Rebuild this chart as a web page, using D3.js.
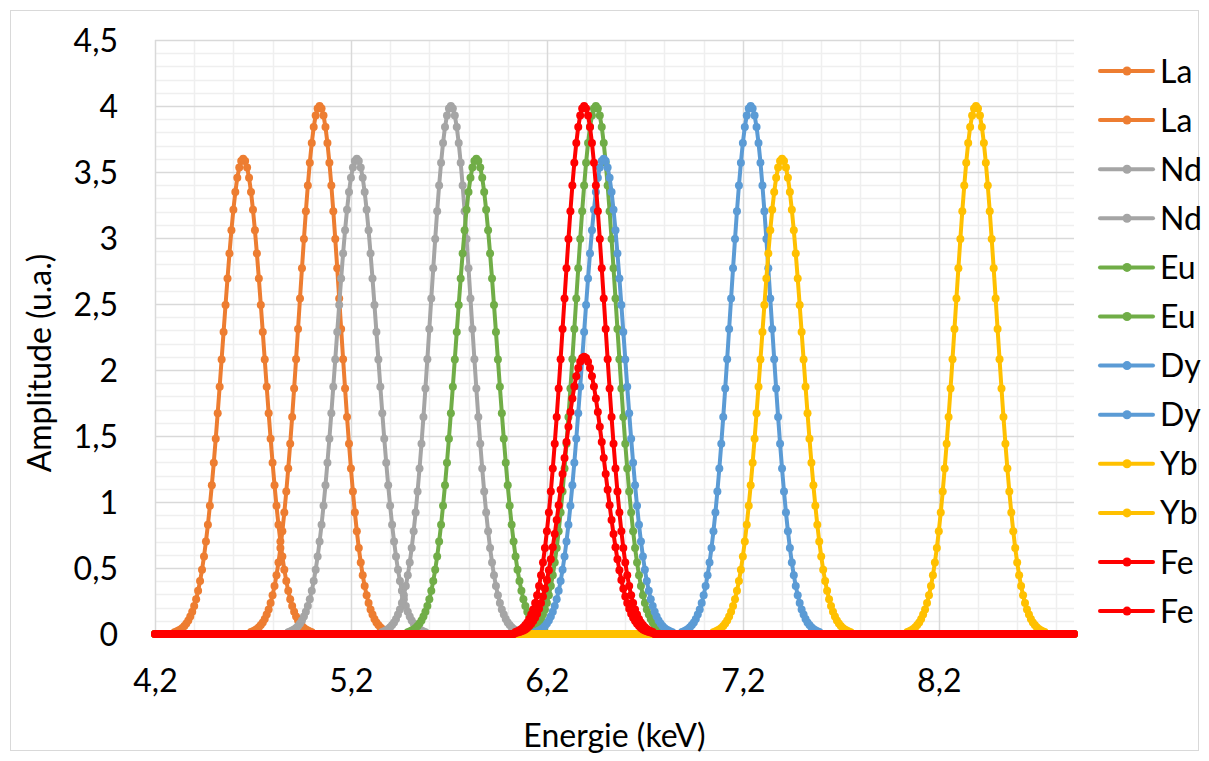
<!DOCTYPE html>
<html>
<head>
<meta charset="utf-8">
<script src="https://cdn.jsdelivr.net/npm/d3@7"></script>
<style>
  html, body { margin: 0; padding: 0; background: #fff; }
  svg text { font-family: Lato, "Open Sans", sans-serif; fill: #000; }
</style>
</head>
<body>
<svg id="chart" width="1209" height="761"></svg>
<script>
// ---------------- DATA ----------------
const seriesNames = ["La", "La", "Nd", "Nd", "Eu", "Eu", "Dy", "Dy", "Yb", "Yb", "Fe", "Fe"];
// peak centres (keV)
const peakCenters = [4.65, 5.04, 5.23, 5.71, 5.84, 6.45, 6.49, 7.24, 7.40, 8.39, 6.39, 6.39];
// which peak profile each series uses
const peakProfileIds = ["p36", "p40", "p36", "p40", "p36", "p40", "p36", "p40", "p36", "p40", "p40", "p21"];
// energy grid (keV): 4.20 … 8.89, step 0.01
const energyFirst = 4.20;
const energyLast = 8.89;
const energyStep = 0.01;
// amplitude values around each peak, from -0.35 to +0.35 keV in 0.01 steps; 0 elsewhere
const peak40 = [0.015,0.021,0.029,0.038,0.051,0.068,0.088,0.114,0.147,0.186,0.235,0.294,0.363,0.445,0.541,0.652,0.778,0.920,1.079,1.253,1.442,1.644,1.859,2.082,2.311,2.542,2.770,2.992,3.203,3.397,3.571,3.720,3.840,3.928,3.982,
  4.000,
  3.982,3.928,3.840,3.720,3.571,3.397,3.203,2.992,2.770,2.542,2.311,2.082,1.859,1.644,1.442,1.253,1.079,0.920,0.778,0.652,0.541,0.445,0.363,0.294,0.235,0.186,0.147,0.114,0.088,0.068,0.051,0.038,0.029,0.021,0.015];
const peak36 = [0.014,0.019,0.026,0.035,0.046,0.061,0.079,0.103,0.132,0.168,0.212,0.264,0.327,0.401,0.487,0.587,0.700,0.828,0.971,1.127,1.298,1.480,1.673,1.874,2.080,2.288,2.493,2.693,2.883,3.058,3.214,3.348,3.456,3.535,3.584,
  3.600,
  3.584,3.535,3.456,3.348,3.214,3.058,2.883,2.693,2.493,2.288,2.080,1.874,1.673,1.480,1.298,1.127,0.971,0.828,0.700,0.587,0.487,0.401,0.327,0.264,0.212,0.168,0.132,0.103,0.079,0.061,0.046,0.035,0.026,0.019,0.014];
const peak21 = [0.008,0.011,0.015,0.020,0.027,0.035,0.046,0.060,0.077,0.098,0.123,0.154,0.191,0.234,0.284,0.342,0.409,0.483,0.566,0.658,0.757,0.863,0.976,1.093,1.213,1.334,1.454,1.571,1.682,1.784,1.875,1.953,2.016,2.062,2.091,
  2.100,
  2.091,2.062,2.016,1.953,1.875,1.784,1.682,1.571,1.454,1.334,1.213,1.093,0.976,0.863,0.757,0.658,0.566,0.483,0.409,0.342,0.284,0.234,0.191,0.154,0.123,0.098,0.077,0.060,0.046,0.035,0.027,0.020,0.015,0.011,0.008];
const xTickValues = [4.2, 5.2, 6.2, 7.2, 8.2];
const yTickValues = [0, 0.5, 1, 1.5, 2, 2.5, 3, 3.5, 4, 4.5];
const xAxisTitle = "Energie (keV)";
const yAxisTitle = "Amplitude (u.a.)";

// ---------------- STYLE ----------------
const seriesColors = ["#ED7D31", "#ED7D31", "#A5A5A5", "#A5A5A5", "#70AD47", "#70AD47",
                      "#5B9BD5", "#5B9BD5", "#FFC000", "#FFC000", "#FF0000", "#FF0000"];

// ---------------- BUILD ----------------
const profiles = { p36: peak36, p40: peak40, p21: peak21 };
const half = 35;
const nPts = Math.round((energyLast - energyFirst) / energyStep) + 1;
const energies = d3.range(nPts).map(i => +(energyFirst + i * energyStep).toFixed(2));

const series = seriesNames.map((name, s) => {
  const prof = profiles[peakProfileIds[s]];
  const values = energies.map(e => {
    const k = Math.round((e - peakCenters[s]) / energyStep);
    return (k >= -half && k <= half) ? prof[k + half] : 0;
  });
  return { name, color: seriesColors[s], points: energies.map((e, i) => [e, values[i]]) };
});

const svg = d3.select("#chart");
const W = 1209, H = 761;
const plot = { left: 155, right: 1074, top: 40, bottom: 634 };

svg.append("rect").attr("width", W).attr("height", H).attr("fill", "#fff");
svg.append("rect").attr("x", 10.5).attr("y", 10.5).attr("width", 1188).attr("height", 740)
  .attr("fill", "none").attr("stroke", "#d9d9d9").attr("stroke-width", 1);

const x = d3.scaleLinear().domain([energyFirst, energyLast]).range([plot.left, plot.right]);
const y = d3.scaleLinear().domain([0, 4.5]).range([plot.bottom, plot.top]);

const fmt = v => String(+v.toFixed(2)).replace(".", ",");

// gridlines
const grid = svg.append("g");
const yMinor = d3.range(0, 46).map(i => +(i * 0.1).toFixed(1)).filter(v => Math.abs(v * 2 - Math.round(v * 2)) > 1e-6);
grid.selectAll(".ymin").data(yMinor).join("line")
  .attr("x1", plot.left).attr("x2", plot.right)
  .attr("y1", d => Math.round(y(d)) + 0.5).attr("y2", d => Math.round(y(d)) + 0.5)
  .attr("stroke", "#efefef").attr("stroke-width", 1.5);
const xMinor = d3.range(0, 24).map(i => +(energyFirst + i * 0.2).toFixed(1))
  .filter(v => v <= energyLast && !xTickValues.some(t => Math.abs(t - v) < 1e-6));
grid.selectAll(".xmin").data(xMinor).join("line")
  .attr("y1", plot.top).attr("y2", plot.bottom)
  .attr("x1", d => Math.round(x(d)) + 0.5).attr("x2", d => Math.round(x(d)) + 0.5)
  .attr("stroke", "#efefef").attr("stroke-width", 1.5);
grid.selectAll(".ymaj").data(yTickValues).join("line")
  .attr("x1", plot.left).attr("x2", plot.right)
  .attr("y1", d => Math.round(y(d)) + 0.5).attr("y2", d => Math.round(y(d)) + 0.5)
  .attr("stroke", "#d9d9d9").attr("stroke-width", 1.5);
grid.selectAll(".xmaj").data(xTickValues).join("line")
  .attr("y1", plot.top).attr("y2", plot.bottom)
  .attr("x1", d => Math.round(x(d)) + 0.5).attr("x2", d => Math.round(x(d)) + 0.5)
  .attr("stroke", "#d9d9d9").attr("stroke-width", 1.5);

// axes (labels only, via d3 axes)
const xAxis = d3.axisBottom(x).tickValues(xTickValues).tickFormat(fmt).tickSize(0).tickPadding(0);
const gx = svg.append("g").attr("transform", `translate(0,${plot.bottom})`).call(xAxis);
gx.select(".domain").remove();
gx.selectAll("text").attr("font-size", 32).attr("dy", null).attr("y", 58).style("font-family", "Lato");

const yAxis = d3.axisLeft(y).tickValues(yTickValues).tickFormat(fmt).tickSize(0).tickPadding(0);
const gy = svg.append("g").attr("transform", `translate(118,0)`).call(yAxis);
gy.select(".domain").remove();
gy.selectAll("text").attr("font-size", 32).attr("dy", "0.36em").attr("x", 0).style("font-family", "Lato");

// axis titles
svg.append("text").attr("x", (plot.left + plot.right) / 2).attr("y", 747)
  .attr("text-anchor", "middle").attr("font-size", 32).text(xAxisTitle);
svg.append("text").attr("transform", "translate(51,363) rotate(-90)")
  .attr("text-anchor", "middle").attr("font-size", 32).text(yAxisTitle);

// series
const line = d3.line().x(d => x(d[0])).y(d => y(d[1]));
const gs = svg.append("g");
series.forEach(s => {
  const g = gs.append("g");
  g.append("path").datum(s.points).attr("d", line)
    .attr("fill", "none").attr("stroke", s.color).attr("stroke-width", 4)
    .attr("stroke-linejoin", "round").attr("stroke-linecap", "round");
  g.selectAll("circle").data(s.points).join("circle")
    .attr("cx", d => x(d[0])).attr("cy", d => y(d[1])).attr("r", 4)
    .attr("fill", s.color);
});

// legend
const leg = svg.append("g");
series.forEach((s, i) => {
  const cy = 71 + i * 49.1;
  const g = leg.append("g");
  g.append("line").attr("x1", 1100).attr("x2", 1153).attr("y1", cy).attr("y2", cy)
    .attr("stroke", s.color).attr("stroke-width", 4).attr("stroke-linecap", "round");
  g.append("circle").attr("cx", 1127).attr("cy", cy).attr("r", 4.5).attr("fill", s.color);
  g.append("text").attr("x", 1160).attr("y", cy).attr("dy", "0.36em")
    .attr("font-size", 32).text(s.name);
});
</script>
</body>
</html>
